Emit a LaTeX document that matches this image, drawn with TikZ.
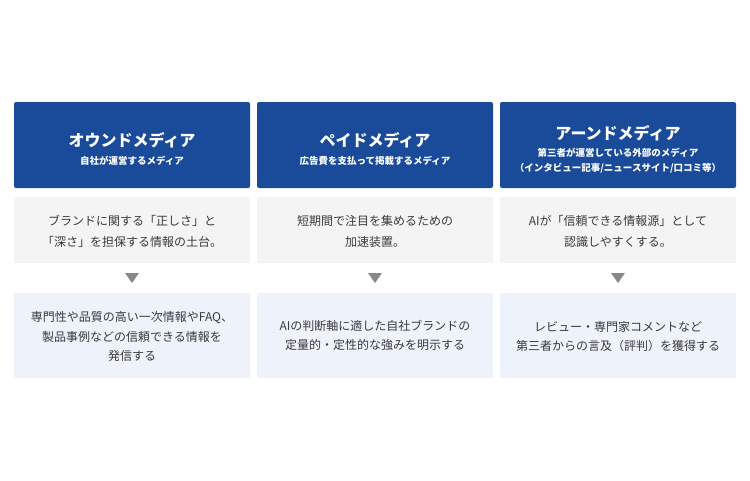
\documentclass[tikz,border=0pt]{standalone}
\usepackage{fontspec}
\setmainfont{Noto Sans CJK JP}
\usetikzlibrary{positioning}

\definecolor{headblue}{HTML}{1A4A9A}
\definecolor{descgray}{HTML}{F4F4F4}
\definecolor{actblue}{HTML}{EEF2FB}
\definecolor{txtgray}{HTML}{3A3A3A}
\definecolor{arrgray}{HTML}{888888}

\tikzset{
	head/.style={rectangle, rounded corners=2pt, fill=headblue, text=white, minimum width=236pt, minimum height=86pt, inner sep=0pt, align=center},
	desc/.style={rectangle, fill=descgray, text=txtgray, minimum width=236pt, minimum height=66pt, inner sep=0pt, align=center, font=\fontsize{12}{21}\selectfont},
	act/.style={rectangle, fill=actblue, text=txtgray, minimum width=236pt, minimum height=85pt, inner sep=0pt, align=center, font=\fontsize{12}{19.5}\selectfont},
}
% title line, with a strut that pushes the text block down a little
\newcommand{\headtitle}[2][22pt]{{\bfseries\fontsize{16}{20}\selectfont\rule{0pt}{#1}#2}}
\newcommand{\headsub}[1]{{\bfseries\fontsize{9.5}{15}\selectfont #1}}

\begin{document}
\begin{tikzpicture}[x=1pt,y=-1pt]
		\useasboundingbox (0,0) rectangle (750,480);

		% headers
		\node (owned) [head] at (132,145) {\headtitle{オウンドメディア}\\[6pt]\headsub{自社が運営するメディア}};
		\node (paid) [head] at (375,145) {\headtitle{ペイドメディア}\\[6pt]\headsub{広告費を支払って掲載するメディア}};
		\node (earned) [head] at (618,145) {\headtitle[23pt]{アーンドメディア}\\[5pt]\headsub{第三者が運営している外部のメディア}\\[3pt]\headsub{（インタビュー記事/ニュースサイト/口コミ等）}};

		% roles
		\node (owneddesc) [desc, below=9pt of owned] {\rule{0pt}{13pt}ブランドに関する「正しさ」と\\「深さ」を担保する情報の土台。};
		\node (paiddesc) [desc, below=9pt of paid] {\rule{0pt}{13pt}短期間で注目を集めるための\\加速装置。};
		\node (earneddesc) [desc, below=9pt of earned] {\rule{0pt}{13pt}AIが「信頼できる情報源」として\\認識しやすくする。};

		% actions
		\node (ownedact) [act, below=29pt of owneddesc] {\rule{0pt}{13pt}専門性や品質の高い一次情報やFAQ、\\製品事例などの信頼できる情報を\\発信する};
		\node (paidact) [act, below=29pt of paiddesc] {AIの判断軸に適した自社ブランドの\\定量的・定性的な強みを明示する};
		\node (earnedact) [act, below=29pt of earneddesc] {\rule{0pt}{13pt}レビュー・専門家コメントなど\\第三者からの言及（評判）を獲得する};

		\foreach \x in {132,375,618}
			\fill[arrgray] (\x-7,273) -- (\x+7,273) -- (\x,283) -- cycle;
	\end{tikzpicture}
\end{document}
